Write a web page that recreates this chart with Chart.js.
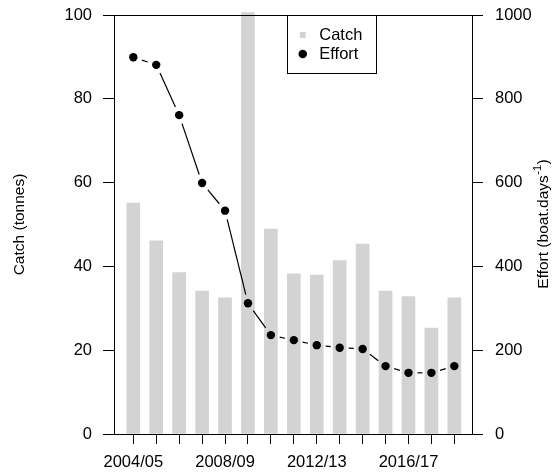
<!DOCTYPE html>
<html>
<head>
<meta charset="utf-8">
<script src="https://cdn.jsdelivr.net/npm/chart.js@4"></script>
<style>
html,body{margin:0;padding:0;background:#fff;}
canvas{display:block;}
</style>
</head>
<body>
<canvas id="c" width="553" height="473"></canvas>
<script>
// ---- data ----
const categories = ['2004/05','2005/06','2006/07','2007/08','2008/09','2009/10','2010/11','2011/12','2012/13','2013/14','2014/15','2015/16','2016/17','2017/18','2018/19'];
const shownTickLabels = ['2004/05','2008/09','2012/13','2016/17'];
const catchTonnes = [55.1, 46.1, 38.5, 34.1, 32.5, 100.6, 48.9, 38.2, 37.9, 41.4, 45.3, 34.1, 32.8, 25.3, 32.5];
const effortBoatDays = [899, 881, 761, 599, 533, 312, 236, 224, 212, 206, 203, 162, 146, 146, 162];
const catchTicks = [0, 20, 40, 60, 80, 100];
const effortTicks = [0, 200, 400, 600, 800, 1000];
const seriesLabels = ['Catch', 'Effort'];
const leftTitle = 'Catch (tonnes)';
const rightTitleMain = 'Effort (boat.days';
const rightTitleSup = '-1';
const rightTitleEnd = ')';

// ---- style ----
const FONT = '"Liberation Sans", Arial, Helvetica, sans-serif';
Chart.defaults.color = '#000';
Chart.defaults.font.family = FONT;

const gapLine = 9; // gap around points on the effort line (R type="b")

const noLabelPadding = (scale) => {
  scale.paddingTop = 0;
  scale.paddingBottom = 0;
};

const boxPlugin = {
  id: 'boxAndTitles',
  afterLayout(chart) {
    const lg = chart.legend, ca = chart.chartArea;
    if (lg) {
      lg.left = ca.left + 178;
      lg.top = ca.top + 9.25;
      lg.right = lg.left + 120;
      lg.bottom = lg.top + 60;
    }
  },
  afterDraw(chart) {
    const ctx = chart.ctx, ca = chart.chartArea;
    ctx.save();
    ctx.strokeStyle = '#000';
    ctx.lineWidth = 1;
    // plot frame
    ctx.strokeRect(Math.round(ca.left) + 0.5, Math.round(ca.top) + 0.5,
                   Math.round(ca.right - ca.left), Math.round(ca.bottom - ca.top));
    // legend frame
    ctx.strokeRect(Math.round(ca.left + 173) + 0.5, Math.round(ca.top) + 0.5, 89, 58);
    // right axis title (reads bottom to top)
    const s = chart.scales.y2;
    ctx.translate(s.right - 9, (ca.top + ca.bottom) / 2);
    ctx.rotate(-Math.PI / 2);
    ctx.fillStyle = '#000';
    ctx.textBaseline = 'middle';
    ctx.textAlign = 'left';
    const fMain = '15.5px ' + FONT, fSup = '11px ' + FONT;
    ctx.font = fMain;
    const w1 = ctx.measureText(rightTitleMain).width, w3 = ctx.measureText(rightTitleEnd).width;
    ctx.font = fSup;
    const w2 = ctx.measureText(rightTitleSup).width;
    let cx = -(w1 + w2 + w3) / 2;
    ctx.font = fMain; ctx.fillText(rightTitleMain, cx, 0); cx += w1;
    ctx.font = fSup; ctx.fillText(rightTitleSup, cx + 0.5, -6); cx += w2 + 1;
    ctx.font = fMain; ctx.fillText(rightTitleEnd, cx, 0);
    ctx.restore();
  }
};

const chart = new Chart(document.getElementById('c'), {
  type: 'bar',
  data: {
    datasets: [
      {
        type: 'bar',
        label: seriesLabels[0],
        data: catchTonnes.map((v, i) => ({x: i + 1, y: v})),
        yAxisID: 'y',
        xAxisID: 'x',
        backgroundColor: '#d3d3d3',
        borderWidth: 0,
        barThickness: 13,
        pointStyle: 'rect',
        clip: false,
        order: 1
      },
      {
        type: 'line',
        label: seriesLabels[1],
        data: effortBoatDays.map((v, i) => ({x: i + 1, y: v})),
        yAxisID: 'y2',
        xAxisID: 'x',
        borderColor: '#000',
        backgroundColor: '#000',
        borderWidth: 1.2,
        pointStyle: 'circle',
        pointRadius: 4.2,
        pointBorderWidth: 0,
        pointBackgroundColor: '#000',
        tension: 0,
        fill: false,
        order: 0,
        segment: {
          borderDash: (ctx) => {
            const L = Math.hypot(ctx.p1.x - ctx.p0.x, ctx.p1.y - ctx.p0.y);
            return [0, gapLine, Math.max(L - 2 * gapLine, 0), gapLine + 50];
          }
        }
      }
    ]
  },
  options: {
    responsive: false,
    animation: false,
    devicePixelRatio: 1,
    layout: {padding: {top: 15, left: 0, right: 0, bottom: 0}},
    plugins: {
      tooltip: {enabled: false},
      legend: {
        display: true,
        position: 'chartArea',
        align: 'start',
        labels: {
          usePointStyle: true,
          boxWidth: 16.5,
          boxHeight: 6,
          padding: 2.5,
          color: '#000',
          font: {size: 16.5, family: FONT},
          sort: (a, b) => a.datasetIndex - b.datasetIndex,
          generateLabels: (ch) => {
            const items = Chart.defaults.plugins.legend.labels.generateLabels(ch);
            items.forEach(it => {
              const ds = ch.data.datasets[it.datasetIndex];
              it.pointStyle = ds.pointStyle;
              it.fillStyle = ds.type === 'bar' ? ds.backgroundColor : ds.pointBackgroundColor;
              it.strokeStyle = 'rgba(0,0,0,0)';
              it.lineWidth = 0;
            });
            return items;
          }
        }
      }
    },
    scales: {
      x: {
        type: 'linear',
        position: 'bottom',
        min: 0.158,
        max: 15.77,
        offset: false,
        afterBuildTicks: (scale) => { scale.ticks = categories.map((c, i) => ({value: i + 1})); },
        afterFit: (scale) => { scale.height = 39; },
        ticks: {
          autoSkip: false,
          maxRotation: 0,
          minRotation: 0,
          padding: 9,
          color: '#000',
          font: {size: 16.5, family: FONT},
          callback: (v) => {
            const lab = categories[Math.round(v) - 1];
            return shownTickLabels.includes(lab) ? lab : '';
          }
        },
        grid: {display: true, offset: false, drawOnChartArea: false, drawTicks: true, tickLength: 10, color: '#000', lineWidth: 1},
        border: {display: true, color: '#000', width: 1}
      },
      y: {
        type: 'linear',
        position: 'left',
        min: 0,
        max: 100,
        afterBuildTicks: (scale) => { scale.ticks = catchTicks.map(v => ({value: v})); },
        afterFit: (scale) => { scale.width = 114; noLabelPadding(scale); },
        ticks: {
          padding: 11,
          color: '#000',
          font: {size: 16.5, family: FONT},
          callback: (v) => String(v)
        },
        title: {
          display: true,
          text: leftTitle,
          color: '#000',
          font: {size: 15.5, family: FONT},
          padding: {top: 10.7, bottom: 0}
        },
        grid: {display: true, drawOnChartArea: false, drawTicks: true, tickLength: 11, color: '#000', lineWidth: 1},
        border: {display: true, color: '#000', width: 1}
      },
      y2: {
        type: 'linear',
        position: 'right',
        min: 0,
        max: 1000,
        afterBuildTicks: (scale) => { scale.ticks = effortTicks.map(v => ({value: v})); },
        afterFit: (scale) => { scale.width = 81; noLabelPadding(scale); },
        ticks: {
          padding: 12,
          color: '#000',
          font: {size: 16.5, family: FONT},
          callback: (v) => String(v)
        },
        grid: {display: true, drawOnChartArea: false, drawTicks: true, tickLength: 11, color: '#000', lineWidth: 1},
        border: {display: true, color: '#000', width: 1}
      }
    }
  },
  plugins: [boxPlugin]
});
</script>
</body>
</html>
